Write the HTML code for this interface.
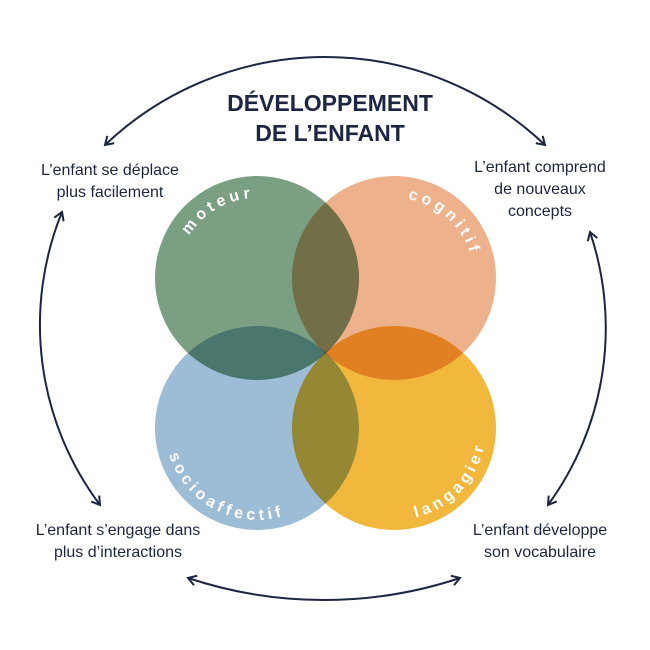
<!DOCTYPE html>
<html><head><meta charset="utf-8"><style>
html,body{margin:0;padding:0;background:#fff;}
svg{display:block;}
</style></head><body>
<svg width="650" height="650" viewBox="0 0 650 650" xmlns="http://www.w3.org/2000/svg">
<defs>
<marker id="ar" viewBox="0 0 12 12" refX="10" refY="6" markerWidth="12" markerHeight="12" markerUnits="userSpaceOnUse" orient="auto-start-reverse">
<polyline points="2,1 10,6 2,11" fill="none" stroke="#1c2541" stroke-width="2"/>
</marker>
<path id="pm" d="M 178.2 292 A 80 80 0 0 1 308.4 216.7"/>
<path id="pc" d="M 369.3 201.9 A 80 80 0 0 1 472.3 294.6"/>
<path id="ps" d="M 165.5 419.9 A 92 92 0 0 0 316.1 498.5"/>
<path id="pl" d="M 350.8 509.2 A 92 92 0 0 0 472 379.2"/>
</defs>
<g style="isolation:isolate">
<circle cx="257" cy="278" r="102" fill="#7a9f82" style="mix-blend-mode:multiply"/>
<circle cx="394" cy="278" r="102" fill="#edb18c" style="mix-blend-mode:multiply"/>
<circle cx="257" cy="428" r="102" fill="#9dbdd6" style="mix-blend-mode:multiply"/>
<circle cx="394" cy="428" r="102" fill="#f2b83e" style="mix-blend-mode:multiply"/>
</g>
<g fill="none" stroke="#1c2541" stroke-width="2">
<path d="M 105 145 A 319 319 0 0 1 545 145" marker-start="url(#ar)" marker-end="url(#ar)"/>
<path d="M 62 212 A 300 300 0 0 0 100 505" marker-start="url(#ar)" marker-end="url(#ar)"/>
<path d="M 590 232 A 300 300 0 0 1 548 505" marker-start="url(#ar)" marker-end="url(#ar)"/>
<path d="M 188 578 A 431 431 0 0 0 460 578" marker-start="url(#ar)" marker-end="url(#ar)"/>
</g>
<g font-family="Liberation Sans, sans-serif" fill="#1c2541" text-anchor="middle">
<text x="330" y="111" font-size="23" font-weight="bold">DÉVELOPPEMENT</text>
<text x="330" y="141" font-size="23" font-weight="bold">DE L’ENFANT</text>
<g font-size="16">
<text x="110" y="175">L’enfant se déplace</text>
<text x="110" y="197">plus facilement</text>
<text x="540" y="172">L’enfant comprend</text>
<text x="540" y="194">de nouveaux</text>
<text x="540" y="216">concepts</text>
<text x="118" y="535">L’enfant s’engage dans</text>
<text x="118" y="557">plus d’interactions</text>
<text x="540" y="535">L’enfant développe</text>
<text x="540" y="557">son vocabulaire</text>
</g>
</g>
<g font-family="Liberation Sans, sans-serif" fill="#fff" font-weight="bold" font-size="16" letter-spacing="4" text-anchor="middle">
<text><textPath href="#pm" startOffset="50%">moteur</textPath></text>
<text><textPath href="#pc" startOffset="50%">cognitif</textPath></text>
<text><textPath href="#ps" startOffset="50%">socioaffectif</textPath></text>
<text><textPath href="#pl" startOffset="50%">langagier</textPath></text>
</g>
</svg>
</body></html>
